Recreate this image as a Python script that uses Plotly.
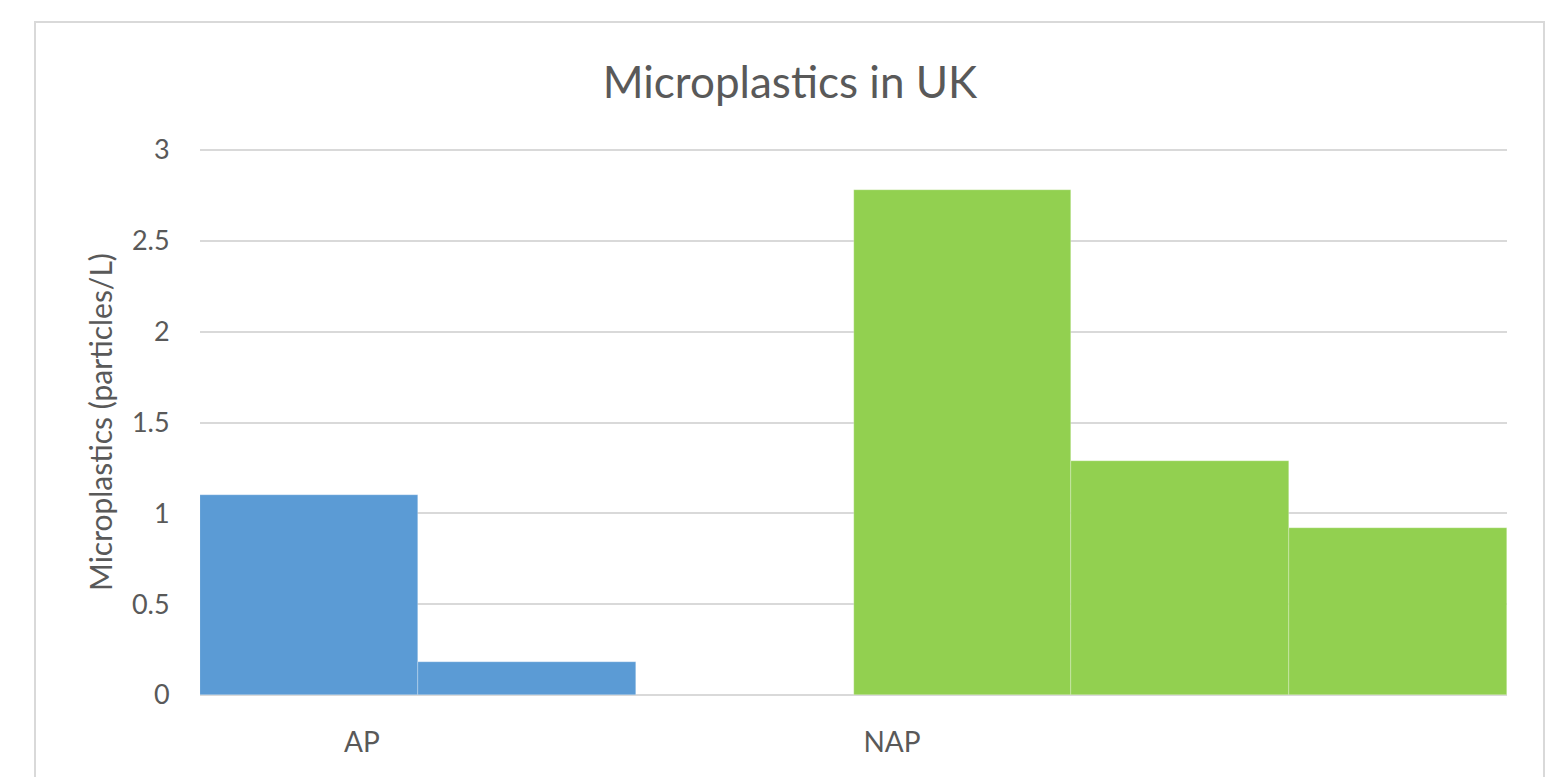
import plotly.graph_objects as go

# ---- data ----
group_labels = ["AP", "NAP"]
ap_values = [1.10, 0.18]
nap_values = [2.78, 1.29, 0.92]
y_ticks = [0, 0.5, 1, 1.5, 2, 2.5, 3]
title_text = "Microplastics in UK"
y_title = "Microplastics (particles/L)"

BLUE = "#5B9BD5"
GREEN = "#92D050"
GRID = "#D9D9D9"
TXT = "#595959"
FONT = "Lato, 'Open Sans', sans-serif"

W, H = 1546, 777
L, R, T, B = 200, 39, 145, 82
pw, ph = W - L - R, H - T - B
y_top = 3 + 5 / (695 - 150) * 3   # a little headroom so the top gridline is drawn

# slot positions: AP bars, one empty slot, NAP bars
ap_x = list(range(len(ap_values)))
nap_start = len(ap_values) + 1
nap_x = [nap_start + i for i in range(len(nap_values))]
n_slots = nap_start + len(nap_values)

fig = go.Figure()
fig.add_trace(go.Bar(x=ap_x, y=ap_values, width=1, marker=dict(color=BLUE, line=dict(width=0.5, color="rgba(255,255,255,0.5)")), showlegend=False))
fig.add_trace(go.Bar(x=nap_x, y=nap_values, width=1, marker=dict(color=GREEN, line=dict(width=0.5, color="rgba(255,255,255,0.5)")), showlegend=False))

def px_to_xdata(px):
    return (px - L) / pw * n_slots - 0.5

def pxx(px):
    return (px - L) / pw

def pxy(py):
    return (H - B - py) / ph

fig.update_layout(
    width=W, height=H,
    margin=dict(l=L, r=R, t=T, b=B),
    paper_bgcolor="white", plot_bgcolor="white",
    bargap=0, barmode="overlay",
    font=dict(family=FONT, color=TXT),
    title=dict(text=title_text, x=790 / W, xanchor="center", xref="container",
               y=1 - 83 / H, yanchor="middle", yref="container",
               font=dict(size=44, color=TXT, family=FONT)),
    xaxis=dict(range=[-0.5, n_slots - 0.5], showgrid=False, zeroline=False, showline=False,
               tickmode="array", tickvals=[px_to_xdata(362), px_to_xdata(892)], ticktext=group_labels,
               ticks="outside", ticklen=22, tickcolor="rgba(0,0,0,0)",
               tickfont=dict(size=28, color=TXT, family=FONT)),
    yaxis=dict(range=[0, y_top], tickmode="array", tickvals=y_ticks, ticktext=[f"{v:g}" for v in y_ticks],
               showgrid=True, gridcolor=GRID, gridwidth=2, zeroline=True, zerolinecolor=GRID, zerolinewidth=2,
               showline=False, ticks="outside", ticklen=24, tickcolor="rgba(0,0,0,0)",
               tickfont=dict(size=27, color=TXT, family=FONT)),
    annotations=[dict(text=y_title, textangle=-90, xref="paper", yref="paper",
                      x=pxx(100), y=pxy(422), xanchor="center", yanchor="middle", showarrow=False,
                      font=dict(size=30, color=TXT, family=FONT))],
    shapes=[dict(type="rect", xref="paper", yref="paper", layer="below",
                 x0=pxx(35), x1=pxx(1544), y0=pxy(820), y1=pxy(22),
                 line=dict(color=GRID, width=2), fillcolor="rgba(0,0,0,0)")],
)

fig.write_html("out.html")
